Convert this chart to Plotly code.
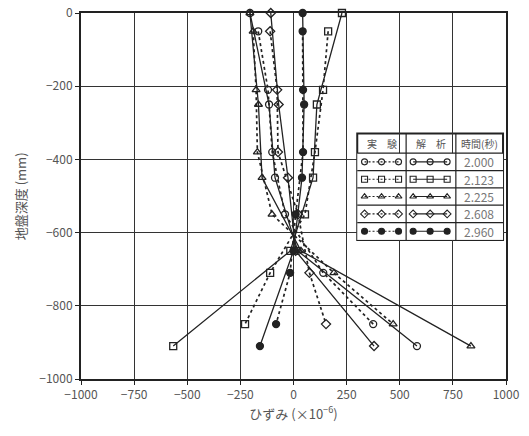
import plotly.graph_objects as go

# ---- data ----
times = ["2.000", "2.123", "2.225", "2.608", "2.960"]
symbols = ["circle-open", "square-open", "triangle-up-open", "diamond-open", "circle"]

depth_exp = [-50, -210, -380, -550, -710, -850]
depth_ana = [0, -250, -450, -650, -910]

exp_2000 = [-166, -120, -100, -40, 140, 375]
exp_2123 = [163, 139, 101, 54, -110, -228]
exp_2225 = [-190, -176, -170, -101, 190, 469]
exp_2608 = [-110, -77, -73, 21, 75, 153]
exp_2960 = [43, 45, 45, 10, -16, -82]

ana_2000 = [-205, -115, -87, 20, 581]
ana_2123 = [228, 110, 92, -15, -566]
ana_2225 = [-205, -165, -148, 35, 835]
ana_2608 = [-107, -70, -26, 10, 379]
ana_2960 = [43, 50, 40, 0, -158]

exp_series = [exp_2000, exp_2123, exp_2225, exp_2608, exp_2960]
ana_series = [ana_2000, ana_2123, ana_2225, ana_2608, ana_2960]

x_ticks = [-1000, -750, -500, -250, 0, 250, 500, 750, 1000]
y_ticks = [0, -200, -400, -600, -800, -1000]

FONT = "Noto Sans CJK JP"
INK = "#222222"
GRID = "#333333"
TXT = "#555555"

fig = go.Figure()

for xs, sym in zip(exp_series, symbols):
    fig.add_trace(go.Scatter(
        x=xs, y=depth_exp, mode="lines+markers",
        line=dict(color=INK, width=1.7, dash="3px,3px"),
        marker=dict(symbol=sym, size=7, color=INK, line=dict(color=INK, width=1.3)),
        showlegend=False, cliponaxis=False))

for ys, sym in zip(ana_series, symbols):
    fig.add_trace(go.Scatter(
        x=ys, y=depth_ana, mode="lines+markers",
        line=dict(color=INK, width=1.3),
        marker=dict(symbol=sym, size=7, color=INK, line=dict(color=INK, width=1.3)),
        showlegend=False, cliponaxis=False))

# ---- legend table (drawn through a secondary axis) ----
tx0, tx1 = 0.650, 0.993
ty0, ty1 = 0.380, 0.671
head_bottom = 0.617
col1, col2 = 0.765, 0.882

row_idx = list(range(len(times)))
exp_sample_x = [0.15, 0.5, 0.85]
ana_sample_x = [1.15, 1.5, 1.85]
for i, sym in enumerate(symbols):
    fig.add_trace(go.Scatter(
        x=exp_sample_x, y=[row_idx[i]] * 3, xaxis="x2", yaxis="y2",
        mode="lines+markers", line=dict(color=INK, width=1.1, dash="2px,2px"),
        marker=dict(symbol=sym, size=6, color=INK, line=dict(color=INK, width=1.1)),
        showlegend=False, cliponaxis=False))
    fig.add_trace(go.Scatter(
        x=ana_sample_x, y=[row_idx[i]] * 3, xaxis="x2", yaxis="y2",
        mode="lines+markers", line=dict(color=INK, width=1.1),
        marker=dict(symbol=sym, size=6, color=INK, line=dict(color=INK, width=1.1)),
        showlegend=False, cliponaxis=False))

shapes = [
    dict(type="rect", xref="paper", yref="paper", x0=tx0, x1=tx1, y0=ty0, y1=ty1,
         fillcolor="white", line=dict(color=INK, width=2), layer="below"),
    dict(type="line", xref="paper", yref="paper", x0=col1, x1=col1, y0=ty0, y1=ty1,
         line=dict(color=INK, width=1.2)),
    dict(type="line", xref="paper", yref="paper", x0=col2, x1=col2, y0=ty0, y1=ty1,
         line=dict(color=INK, width=1.2)),
    dict(type="line", xref="paper", yref="paper", x0=tx0, x1=tx1, y0=head_bottom, y1=head_bottom,
         line=dict(color=INK, width=1.2)),
]
row_h = (head_bottom - ty0) / len(times)
for k in range(1, len(times)):
    yy = head_bottom - k * row_h
    shapes.append(dict(type="line", xref="paper", yref="paper", x0=tx0, x1=tx1, y0=yy, y1=yy,
                       line=dict(color=INK, width=1.2)))

annotations = []
head_y = (ty1 + head_bottom) / 2
for xc, t in [((tx0 + col1) / 2, "実　験"), ((col1 + col2) / 2, "解　析"), ((col2 + tx1) / 2, "時間(秒)")]:
    annotations.append(dict(x=xc, y=head_y, xref="paper", yref="paper", text=t, showarrow=False,
                            xanchor="center", yanchor="middle",
                            font=dict(family=FONT, size=10, color=TXT)))
for i, t in enumerate(times):
    annotations.append(dict(x=2.5, y=row_idx[i], xref="x2", yref="y2", text=t, showarrow=False,
                            xanchor="center", yanchor="middle",
                            font=dict(family=FONT, size=12, color="#777777")))

# y-axis title placed as a rotated annotation
annotations.append(dict(x=-0.143, y=0.5, xref="paper", yref="paper", text="地盤深度 (mm)",
                        textangle=-90, showarrow=False, xanchor="center", yanchor="middle",
                        font=dict(family=FONT, size=13, color=TXT)))

fig.update_layout(
    template="none",
    width=529, height=436,
    margin=dict(l=81, r=23, t=13, b=57, autoexpand=False),
    paper_bgcolor="white", plot_bgcolor="white",
    font=dict(family=FONT, size=12, color=TXT),
    xaxis=dict(range=[-1000, 1000], tickvals=x_ticks, showgrid=True, gridcolor=GRID, gridwidth=1.3,
               zeroline=False, showline=True, linecolor=INK, linewidth=2, mirror=True,
               ticks="outside", ticklen=4, tickcolor=INK, automargin=False,
               tickfont=dict(family=FONT, size=12, color=TXT),
               title=dict(text="ひずみ (×10<sup>−6</sup>)", font=dict(family=FONT, size=13, color=TXT), standoff=8)),
    yaxis=dict(range=[-1000, 0], tickvals=y_ticks, showgrid=True, gridcolor=GRID, gridwidth=1.3,
               zeroline=False, showline=True, linecolor=INK, linewidth=2, mirror=True,
               ticks="outside", ticklen=4, tickcolor=INK, automargin=False,
               tickfont=dict(family=FONT, size=12, color=TXT)),
    xaxis2=dict(domain=[tx0, tx1], range=[0, 3], anchor="y2", visible=False, fixedrange=True,
                automargin=False),
    yaxis2=dict(domain=[ty0, head_bottom], range=[len(times) - 0.5, -0.5], anchor="x2",
                visible=False, fixedrange=True, automargin=False),
    shapes=shapes, annotations=annotations,
)

fig.write_html("out.html")
